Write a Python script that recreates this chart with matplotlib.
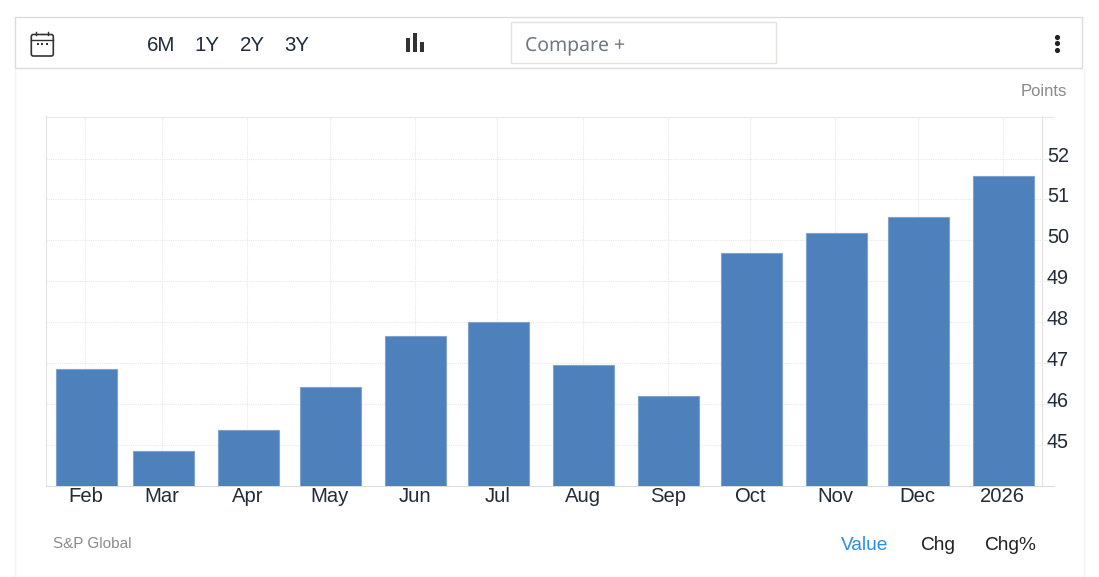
# coding: utf-8
from datetime import date

import matplotlib
matplotlib.use('Agg')
import matplotlib.dates as mdates
import matplotlib.pyplot as plt
from matplotlib.patches import FancyBboxPatch, Rectangle
from matplotlib.transforms import Affine2D

W, H = 1099, 577

months = [date(2025, 2, 1), date(2025, 3, 1), date(2025, 4, 1), date(2025, 5, 1),
          date(2025, 6, 1), date(2025, 7, 1), date(2025, 8, 1), date(2025, 9, 1),
          date(2025, 10, 1), date(2025, 11, 1), date(2025, 12, 1), date(2026, 1, 1)]
values = [46.86, 44.85, 45.37, 46.4, 47.67, 47.99, 46.96, 46.18, 49.68, 50.17, 50.58, 51.58]
month_labels = ['Feb', 'Mar', 'Apr', 'May', 'Jun', 'Jul', 'Aug', 'Sep', 'Oct', 'Nov', 'Dec', '2026']
y_ticks = [45, 46, 47, 48, 49, 50, 51, 52]
ranges = ['6M', '1Y', '2Y', '3Y']
range_x = [161.7, 207.7, 252.7, 297.7]
modes = ['Value', 'Chg', 'Chg%']
mode_x = [865.7, 938.7, 1010.7]
mode_colors = ['#2b8ee8', '#222222', '#222222']

plt.rcParams['font.family'] = ['Liberation Sans', 'DejaVu Sans']
plt.rcParams['text.hinting'] = 'no_autohint'

fig = plt.figure(figsize=(W / 100, H / 100), dpi=100)

# page furniture in pixel coordinates
bg = fig.add_axes([0, 0, 1, 1])
bg.set_xlim(0.7, W + 0.7)
bg.set_ylim(H + 0.5, 0.5)
bg.axis('off')
bg.plot([15.5, 15.5], [69, H], color='#f4f4f4', lw=1)
bg.plot([1084.5, 1084.5], [69, H], color='#f4f4f4', lw=1)
bg.add_patch(Rectangle((16, 17), 1067, 51.5, fc='white', ec='#dcdcdc', lw=1))
bg.add_patch(Rectangle((511.5, 22.5), 265, 41, fc='white', ec='#e2e2de', lw=1))
bg.text(525.7, 51, 'Compare +', family='Noto Sans', fontsize=14, color='#6f7780', va='baseline')
for label, x in zip(ranges, range_x):
    bg.text(x, 51.5, label, fontsize=14.7, color='#1f2d3d', ha='center', va='baseline')

# calendar icon
bg.add_patch(FancyBboxPatch((32, 35), 22, 21.5, boxstyle='round,pad=0,rounding_size=2',
                            fc='white', ec='#333333', lw=1.2))
bg.plot([32, 54], [40.5, 40.5], color='#333333', lw=1)
for x in [37, 49]:
    bg.plot([x, x], [32, 35], color='#333333', lw=1)
bg.scatter([38.5, 43, 47.5], [44.5, 44.5, 44.5], s=4, color='#333333', marker='s', lw=0)

# bars icon
for x, top in zip([408.5, 415.5, 422.5], [38.5, 33.5, 42.7]):
    bg.add_patch(Rectangle((x - 1.7, top), 3.4, 52.7 - top, fc='#333333', ec='none'))

# menu dots
bg.scatter([1058, 1058, 1058], [37, 43.5, 50], s=14, color='#222222', lw=0)

bg.text(1067.7, 96.5, 'Points', fontsize=12, color='#8a8a8a', ha='right', va='baseline')
bg.text(53.7, 549, 'S&P Global', fontsize=11, color='#8a8a8a', va='baseline')
for label, x, c in zip(modes, mode_x, mode_colors):
    bg.text(x, 550, label, fontsize=13.7, color=c, ha='center', va='baseline')

# chart area spans px 47..1055 and 117..486
ax = fig.add_axes([46.3 / W, 1 - 485.5 / H, (1055 - 47) / W, (486 - 117) / H])
ax.patch.set_alpha(0)
x_nums = [mdates.date2num(d) for d in months]
px_per_day = (1003.5 - 86) / (x_nums[-1] - x_nums[0])
ax.set_xlim(x_nums[0] - (86 - 47) / px_per_day, x_nums[0] + (1055 - 86) / px_per_day)
ax.set_ylim(44, 53.03)

ax.bar([x + 1 / px_per_day for x in x_nums], values, width=61 / px_per_day,
       color='#4e80bc', edgecolor='#7fa3cf', linewidth=0.8, zorder=3)

ax.set_xticks(x_nums)
ax.set_xticklabels(month_labels, va='baseline')
ax.set_yticks(y_ticks)
ax.grid(True, color='#e8e8e8', linestyle=(0, (1, 1)), linewidth=0.8, zorder=0)
ax.set_axisbelow(True)

ax.tick_params(axis='x', length=0, pad=12.2, labelsize=14.6, labelcolor='#222b38')
ax.tick_params(axis='y', length=0, pad=3.2, labelsize=14.2, labelcolor='#222b38',
               left=False, labelleft=False, right=False, labelright=True)

ax.spines['top'].set_color('#e8e8e8')
ax.spines['top'].set_linestyle((0, (1, 1)))
ax.spines['top'].set_linewidth(0.8)
ax.spines['left'].set_color('#e3e3e3')
ax.spines['bottom'].set_color('#dcdcdc')
ax.spines['right'].set_color('#e3e3e3')
ax.spines['right'].set_position(('axes', (1043 - 47) / (1055 - 47)))

# value labels have their baseline 3 px under the grid line
for tick in ax.yaxis.get_major_ticks():
    tick.label2.set_verticalalignment('baseline')
    tick.label2.set_transform(tick.label2.get_transform() + Affine2D().translate(0, -3))

fig.savefig('out.png', dpi=100)
